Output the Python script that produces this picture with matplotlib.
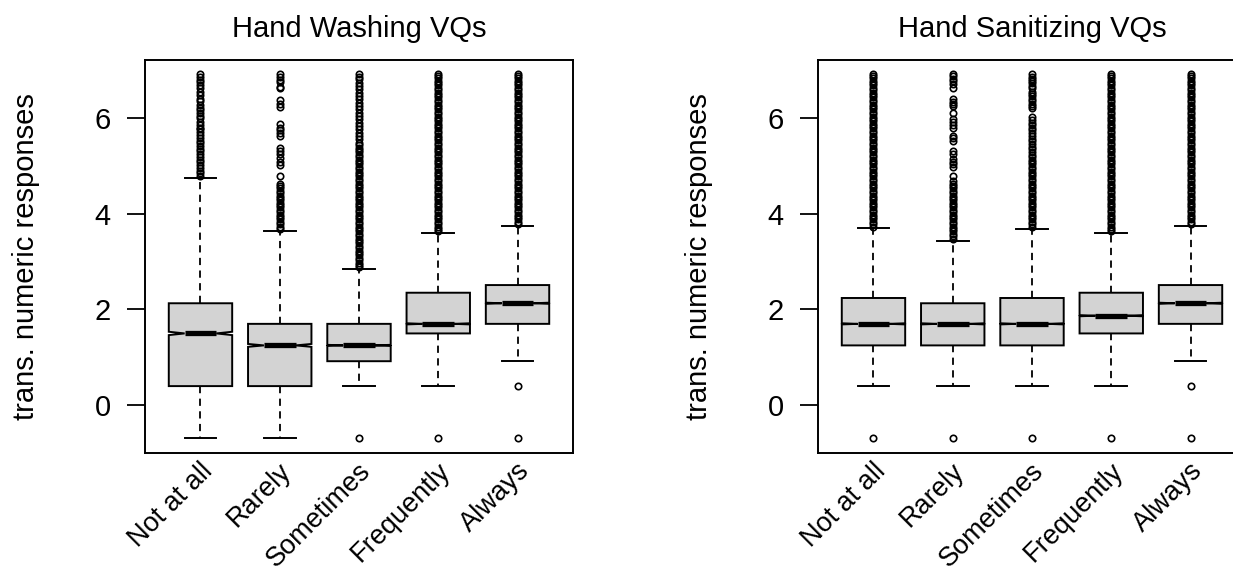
import matplotlib
matplotlib.use("Agg")
import matplotlib.pyplot as plt
import matplotlib.transforms as mtransforms

plt.rcParams['font.family'] = ['Liberation Sans', 'DejaVu Sans']

# categories and panel titles
categories = ["Not at all", "Rarely", "Sometimes", "Frequently", "Always"]
titles = ["Hand Washing VQs", "Hand Sanitizing VQs"]

# box statistics (transformed responses)
wash_q1 = [0.40, 0.40, 0.92, 1.50, 1.70]
wash_med = [1.50, 1.25, 1.25, 1.70, 2.13]
wash_q3 = [2.13, 1.70, 1.70, 2.35, 2.51]
wash_lo = [-0.69, -0.69, 0.40, 0.40, 0.92]
wash_hi = [4.74, 3.64, 2.85, 3.59, 3.74]
wash_notch = [0.035, 0.03, 0.012, 0.012, 0.012]

san_q1 = [1.25, 1.25, 1.25, 1.50, 1.70]
san_med = [1.70, 1.70, 1.70, 1.87, 2.13]
san_q3 = [2.24, 2.13, 2.24, 2.35, 2.51]
san_lo = [0.40, 0.40, 0.40, 0.40, 0.92]
san_hi = [3.71, 3.44, 3.69, 3.59, 3.74]
san_notch = [0.012, 0.012, 0.012, 0.012, 0.012]

# response levels seen in the dense outlier columns
dense_levels = [2.88, 2.93, 2.98, 3.03, 3.08, 3.13, 3.18, 3.23, 3.28, 3.33,
                3.38, 3.43, 3.48, 3.53, 3.58, 3.63, 3.68, 3.73, 3.78, 3.83,
                3.88, 3.93, 3.98, 4.03, 4.08, 4.13, 4.18, 4.23, 4.28, 4.33,
                4.38, 4.43, 4.48, 4.53, 4.58, 4.63, 4.68, 4.73, 4.78, 4.83,
                4.88, 4.93, 4.98, 5.03, 5.08, 5.13, 5.18, 5.23, 5.28, 5.33,
                5.38, 5.43, 5.48, 5.53, 5.58, 5.63, 5.68, 5.73, 5.78, 5.83,
                5.88, 5.93, 5.98, 6.03, 6.08, 6.13, 6.18, 6.23, 6.28, 6.33,
                6.38, 6.43, 6.48, 6.53, 6.58, 6.63, 6.68, 6.73, 6.78, 6.83,
                6.88, 6.91]

# dense outlier ranges per box (None = no dense part)
wash_dense = [None, (3.68, 4.63), (2.88, 5.50), (3.63, 6.91), (3.78, 6.91)]
san_dense = [(3.73, 6.91), (3.48, 4.69), (3.73, 5.28), (3.63, 6.91), (3.78, 6.91)]

# sparse outliers
wash_sparse = [
    [4.79, 4.84, 4.90, 4.95, 5.01, 5.08, 5.13, 5.19, 5.25, 5.30, 5.35, 5.42,
     5.48, 5.52, 5.58, 5.65, 5.70, 5.76, 5.80, 5.86, 5.91, 5.99, 6.04, 6.11,
     6.17, 6.21, 6.28, 6.35, 6.40, 6.48, 6.55, 6.62, 6.68, 6.75, 6.80, 6.86, 6.91],
    [4.78, 5.02, 5.09, 5.16, 5.25, 5.30, 5.38, 5.63, 5.68, 5.74, 5.80, 5.87,
     6.22, 6.30, 6.37, 6.62, 6.65, 6.75, 6.80, 6.85, 6.91],
    [5.55, 5.62, 5.69, 5.76, 5.83, 5.90, 5.97, 6.04, 6.11, 6.18, 6.25, 6.32,
     6.39, 6.46, 6.53, 6.60, 6.67, 6.74, 6.81, 6.86, 6.91],
    [],
    [],
]
san_sparse = [
    [],
    [4.79, 4.97, 5.03, 5.09, 5.14, 5.24, 5.31, 5.52, 5.58, 5.63, 5.80, 5.86,
     5.92, 5.97, 6.11, 6.25, 6.29, 6.34, 6.39, 6.62, 6.70, 6.77, 6.82, 6.87, 6.91],
    [5.35, 5.40, 5.46, 5.52, 5.57, 5.62, 5.68, 5.74, 5.80, 5.85, 5.90, 5.96,
     6.01, 6.20, 6.25, 6.30, 6.35, 6.40, 6.45, 6.50, 6.55, 6.62, 6.67, 6.72,
     6.77, 6.82, 6.86, 6.91],
    [],
    [],
]
# low outliers
wash_low = [[], [], [-0.69], [-0.69], [0.40, -0.69]]
san_low = [[-0.69], [-0.69], [-0.69], [-0.69], [0.40, -0.69]]


def make_stats(q1, med, q3, lo, hi, notch, dense, sparse, low):
    stats = []
    for i in range(len(med)):
        fl = list(sparse[i]) + list(low[i])
        if dense[i] is not None:
            a, b = dense[i]
            fl += [v for v in dense_levels if a <= v <= b]
        stats.append(dict(med=med[i], q1=q1[i], q3=q3[i], whislo=lo[i],
                          whishi=hi[i], cilo=med[i] - notch[i],
                          cihi=med[i] + notch[i], fliers=fl))
    return stats


panels = [
    make_stats(wash_q1, wash_med, wash_q3, wash_lo, wash_hi, wash_notch,
               wash_dense, wash_sparse, wash_low),
    make_stats(san_q1, san_med, san_q3, san_lo, san_hi, san_notch,
               san_dense, san_sparse, san_low),
]

W, H = 1233, 571
fig = plt.figure(figsize=(W / 100, H / 100), dpi=100)
lefts = [145, 818]
fs = 21

for k, stats in enumerate(panels):
    ax = fig.add_axes([lefts[k] / W, 118 / H, 428 / W, 393 / H])
    ax.bxp(stats, positions=range(1, 6), widths=0.8, shownotches=True,
           patch_artist=True,
           boxprops=dict(facecolor='#d3d3d3', edgecolor='black', linewidth=1.4),
           whiskerprops=dict(color='black', linewidth=1.3, linestyle=(0, (4, 3))),
           capprops=dict(color='black', linewidth=1.4),
           medianprops=dict(color='black', linewidth=3.8, solid_capstyle='butt'),
           flierprops=dict(marker='o', markerfacecolor='none',
                           markeredgecolor='black', markersize=4.6,
                           markeredgewidth=1.2, linestyle='none'))
    ax.set_xlim(0.3, 5.7)
    ax.set_ylim(-0.997, 7.21)
    ax.set_xticks([])
    ax.set_yticks([0, 2, 4, 6])
    ax.tick_params(axis='y', length=12.7, width=1.3, pad=12, labelsize=fs)
    for sp in ax.spines.values():
        sp.set_linewidth(1.4)
    ax.set_title(titles[k], fontsize=fs, pad=16.5)
    ax.set_ylabel("trans. numeric responses", fontsize=fs)
    ax.yaxis.set_label_coords(-0.245, 0.5)

    trans = mtransforms.blended_transform_factory(ax.transData, ax.transAxes)
    for i, lab in enumerate(categories):
        ax.text(i + 1 + 0.1, -0.036, lab, transform=trans, rotation=45,
                ha='right', va='center', rotation_mode='anchor', fontsize=19.5)

fig.savefig("out.png", dpi=100)
